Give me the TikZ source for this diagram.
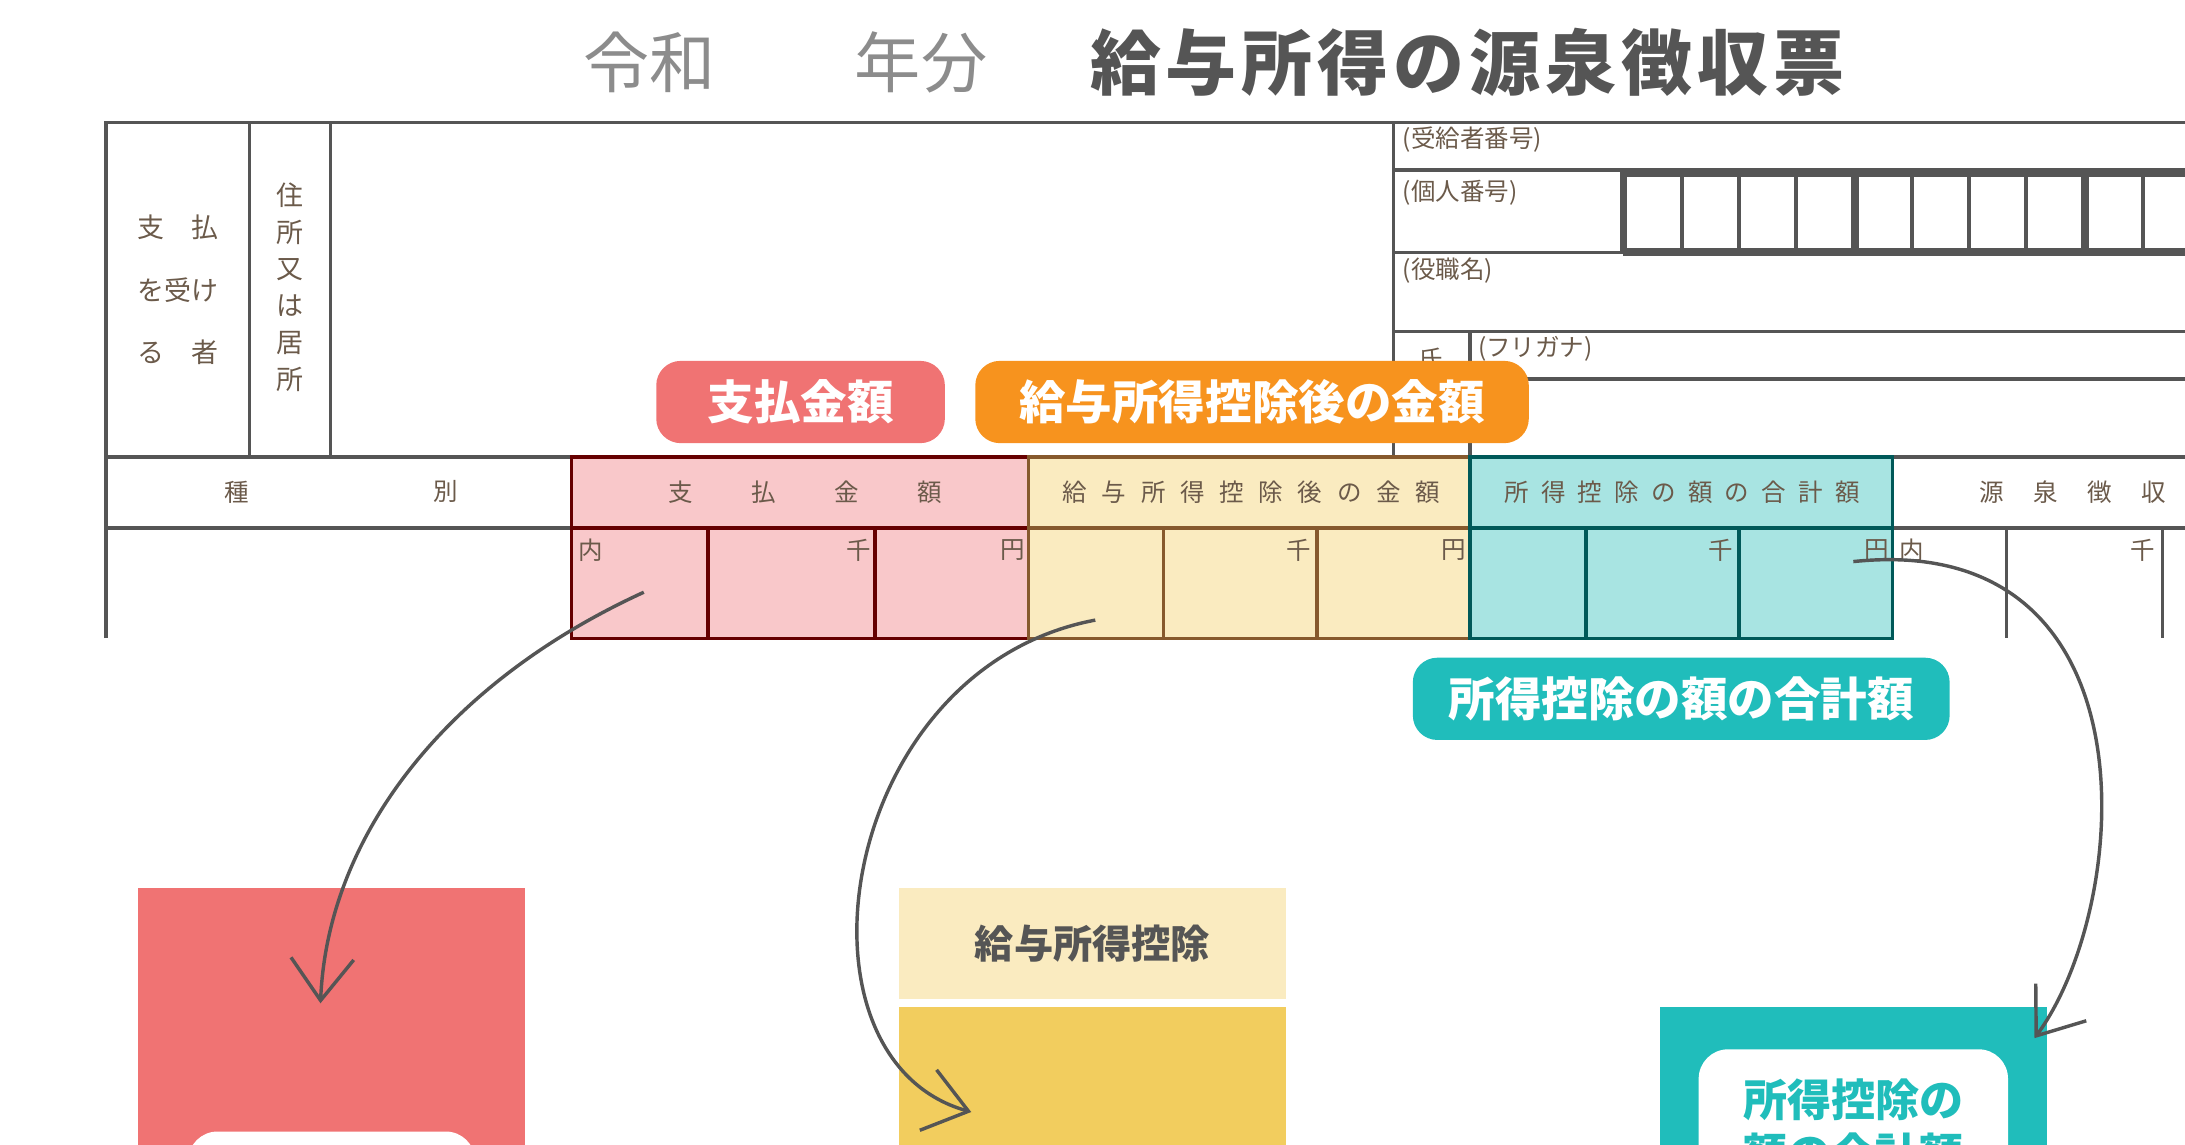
\documentclass[tikz,border=0pt]{standalone}
\usepackage{fontspec}
\setmainfont{Noto Sans CJK JP}
\usetikzlibrary{arrows.meta}
\definecolor{pkL}{HTML}{F9C8CA}\definecolor{pkS}{HTML}{F07373}
\definecolor{ylL}{HTML}{FAEBC0}\definecolor{ylS}{HTML}{F2CD5E}
\definecolor{orS}{HTML}{F7931E}\definecolor{tlL}{HTML}{A8E4E2}\definecolor{tlS}{HTML}{20BDBB}
\definecolor{ln}{HTML}{555555}\definecolor{tx}{HTML}{6B5A4A}
\begin{document}
\begin{tikzpicture}[x=0.01cm,y=-0.01cm,
 frm/.style={draw=ln,line width=0.7pt},
 sm/.style={font=\fontsize{5}{6}\selectfont,text=tx,inner sep=0},
 lbl/.style={rounded corners=5pt,text=white,font=\fontsize{9.5}{11}\bfseries\selectfont,minimum height=0.59cm,inner sep=0},
 arr/.style={draw=ln,line width=0.7pt,-{Straight Barb[length=3mm,width=4.5mm]}}]
\useasboundingbox (0,0) rectangle (1568,821);
\clip (0,0) rectangle (1568,821);
% title
\node[font=\fontsize{13.5}{15}\selectfont,text=gray!90] (t1) at (466,45) {令和};
\node[font=\fontsize{13.5}{15}\selectfont,text=gray!90] (t2) at (661,45) {年分};
\node[font=\fontsize{14.5}{16}\bfseries\selectfont,text=ln] (t3) at (1053,45) {給\kern1pt 与\kern1pt 所\kern1pt 得\kern1pt の\kern1pt 源\kern1pt 泉\kern1pt 徴\kern1pt 収\kern1pt 票};
% coloured cells
\fill[pkL] (410,328) rectangle (738,458);
\fill[ylL] (738,328) rectangle (1055,458);
\fill[tlL] (1055,328) rectangle (1358,458);
% frame
\draw[frm] (76,458) -- (76,88) -- (1568,88);
\draw[frm] (179,88) -- (179,328) (237,88) -- (237,328) (1000,88) -- (1000,328);
\draw[frm] (76,328) -- (1568,328) (76,379) -- (1568,379);
\draw[frm] (1000,122) -- (1568,122) (1000,181) -- (1568,181) (1000,238) -- (1568,238) (1055,272) -- (1568,272) (1055,238) -- (1055,328);
\draw[ln,line width=1.6pt] (1165,181) -- (1165,124) -- (1568,124) (1165,181) -- (1568,181);
\foreach \x in {1207,1248,1289,1372,1413,1454,1538}{\draw[ln,line width=0.9pt] (\x,124) -- (\x,181);}
\foreach \x in {1331,1496}{\draw[ln,line width=1.6pt] (\x,124) -- (\x,181);}
\draw[draw=red!40!black,line width=0.7pt] (410,328) rectangle (738,458) (508,379) -- (508,458) (628,379) -- (628,458) (410,379) -- (738,379);
\draw[draw=brown!70!black,line width=0.7pt] (738,328) rectangle (1055,458) (835,379) -- (835,458) (945,379) -- (945,458) (738,379) -- (1055,379);
\draw[draw=teal!70!black,line width=0.7pt] (1055,328) rectangle (1358,458) (1138,379) -- (1138,458) (1248,379) -- (1248,458) (1055,379) -- (1358,379);
\draw[frm] (1440,379) -- (1440,458) (1552,379) -- (1552,458);
% form texts
\node[sm,font=\fontsize{5.5}{6}\selectfont] (a1) at (128,163) {支\quad 払};
\node[sm,font=\fontsize{5.5}{6}\selectfont] (a2) at (128,208) {を受け};
\node[sm,font=\fontsize{5.5}{6}\selectfont] (a3) at (128,253) {る\quad 者};
\node[sm,font=\fontsize{5.5}{7}\selectfont,align=center] (a4) at (208,206) {住\\[0.5pt]所\\[0.5pt]又\\[0.5pt]は\\[0.5pt]居\\[0.5pt]所};
\node[sm,anchor=west] (b1) at (1006,100) {(受給者番号)};
\node[sm,anchor=west] (b2) at (1006,138) {(個人番号)};
\node[sm,anchor=west] (b3) at (1006,194) {(役職名)};
\node[sm,anchor=west] (b4) at (1060,250) {(フリガナ)};
\node[sm] (b5) at (1027,258) {氏};
\node[sm] (c1) at (170,353) {種};
\node[sm] (c2) at (320,353) {別};
\node[sm] (c3) at (578,353) {支\qquad\, 払\qquad\, 金\qquad\, 額};
\node[sm] (c4) at (898,353) {給\kern3pt 与\kern3pt 所\kern3pt 得\kern3pt 控\kern3pt 除\kern3pt 後\kern3pt の\kern3pt 金\kern3pt 額};
\node[sm] (c5) at (1207,353) {所\kern2.5pt 得\kern2.5pt 控\kern2.5pt 除\kern2.5pt の\kern2.5pt 額\kern2.5pt の\kern2.5pt 合\kern2.5pt 計\kern2.5pt 額};
\node[sm,anchor=west] (c6) at (1420,353) {源\kern6pt 泉\kern6pt 徴\kern6pt 収\kern6pt 税};
\foreach \x/\t in {424/内,616/千,727/円,932/千,1043/円,1235/千,1347/円,1372/内,1538/千}{\node[sm] at (\x,395) {\t};}
% labels
\node[lbl,fill=pkS,minimum width=2.07cm] (L1) at (574.5,288.5) {支払金額};
\node[lbl,fill=orS,minimum width=3.97cm] (L2) at (898.5,288.5) {給与所得控除後の金額};
\node[lbl,fill=tlS,minimum width=3.85cm] (L3) at (1206.5,501.5) {所得控除の額の合計額};
% bottom blocks
\fill[pkS] (99,637) rectangle (377,830);
\fill[white,rounded corners=6pt] (135,812) rectangle (341,860);
\fill[ylL] (645,637) rectangle (923,717);
\node[font=\fontsize{8}{9}\bfseries\selectfont,text=ln] (y1) at (784,677) {給与所得控除};
\fill[ylS] (645,723) rectangle (923,830);
\fill[tlS] (1191,723) rectangle (1469,830);
\fill[white,rounded corners=6pt] (1219,753) rectangle (1441,860);
\node[font=\fontsize{9}{11}\bfseries\selectfont,text=tlS,align=center,anchor=north] (w1) at (1330,762) {所得控除の\\額の合計額};
% arrows
\coordinate (s1) at (462,425); \coordinate (e1) at (230,720);
\coordinate (s2) at (786,445); \coordinate (e2) at (697,798);
\coordinate (s3) at (1330,403); \coordinate (e3) at (1460,745);
\draw[arr] (s1) .. controls (320,490) and (235,600) .. (e1);
\draw[arr] (s2) .. controls (600,480) and (560,760) .. (e2);
\draw[arr] (s3) .. controls (1550,380) and (1530,650) .. (e3);
\end{tikzpicture}
\end{document}
